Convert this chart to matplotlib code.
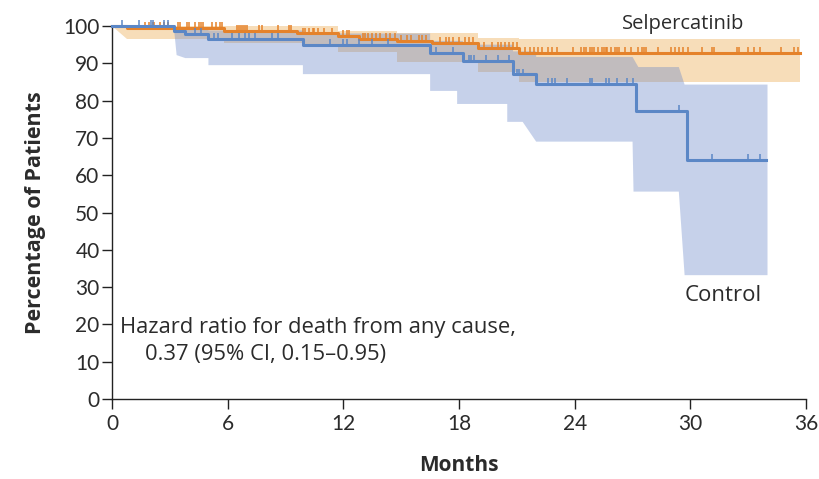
import numpy as np
import matplotlib
matplotlib.use("Agg")
import matplotlib.pyplot as plt

# Kaplan-Meier curves (months, percent surviving)
selp_t = [0, 0.8, 5.8, 9.6, 11.7, 12.8, 14.8, 16.6, 19.0, 21.1, 35.7]
selp_v = [100, 99.4, 98.6, 98.0, 97.4, 96.5, 95.9, 95.4, 94.1, 92.7, 92.7]

ctrl_t = [0, 3.2, 3.8, 5.0, 9.9, 16.5, 18.2, 20.8, 22.0, 27.2, 29.8, 33.9]
ctrl_v = [100, 98.6, 97.9, 96.5, 95.0, 92.7, 90.6, 87.0, 84.4, 77.1, 64.1, 64.1]

# 95% CI band outlines (vertices)
selp_hi_t = [0, 11.7, 11.7, 14.8, 14.8, 19.0, 19.0, 21.1, 21.1, 35.7]
selp_hi_v = [100, 100, 98.6, 98.6, 98.2, 98.2, 96.9, 96.9, 96.5, 96.5]
selp_lo_t = [0, 0.8, 5.8, 5.8, 9.9, 9.9, 11.7, 11.7, 14.8, 14.8, 19.0, 19.0, 21.1, 21.1, 35.7]
selp_lo_v = [100, 96.5, 96.5, 95.4, 95.4, 94.4, 94.4, 93.0, 93.0, 90.4, 90.4, 87.7, 87.7, 85.1, 85.1]

ctrl_hi_t = [0, 3.2, 3.2, 5.0, 5.0, 9.9, 9.9, 16.5, 16.5, 18.2, 18.2, 20.8, 20.8, 22.0, 22.0, 27.0, 27.3, 29.4, 29.7, 34.0]
ctrl_hi_v = [100, 100, 99.3, 99.3, 98.8, 98.8, 98.0, 98.0, 96.0, 96.0, 95.0, 95.0, 93.2, 93.2, 91.7, 91.7, 89.0, 89.0, 84.3, 84.3]
ctrl_lo_t = [0, 3.2, 3.35, 3.8, 5.0, 5.0, 9.9, 9.9, 16.5, 16.5, 17.9, 17.9, 20.5, 20.5, 21.3, 22.0, 27.0, 27.05, 29.4, 29.7, 34.0]
ctrl_lo_v = [100, 100, 92.2, 91.4, 91.4, 89.5, 89.5, 87.1, 87.1, 82.6, 82.6, 79.1, 79.1, 74.3, 74.3, 69.0, 69.0, 55.6, 55.6, 33.2, 33.2]

# censoring marks (months)
selp_cens = [1.7, 1.9, 2.1, 2.2, 2.5, 2.7, 2.9, 3.4, 3.5, 3.9, 4.0, 4.3, 4.5, 4.6, 4.7,
             5.2, 5.4, 5.6, 5.7, 6.5, 6.6, 6.7, 6.8, 6.9, 7.0, 7.6, 7.8, 8.6, 9.2, 9.3,
             9.9, 10.0, 10.2, 10.4, 10.5, 10.7, 11.0, 11.4, 12.0, 12.2, 12.3,
             13.0, 13.1, 13.3, 13.5, 13.7, 13.9, 14.2, 14.4, 14.7, 15.0, 15.3, 15.5,
             15.9, 16.1, 16.3, 17.0, 17.3, 17.5, 17.7, 18.0, 18.3, 18.5, 18.7,
             19.3, 19.7, 20.0, 20.2, 20.4, 20.6, 20.8, 21.0, 21.4, 21.7, 21.9, 22.1,
             22.3, 22.6, 22.8, 23.1, 23.9, 24.3, 24.5, 24.6, 24.8, 24.9, 25.0, 25.2,
             25.4, 25.5, 25.6, 25.7, 25.9, 26.1, 26.2, 26.3, 26.6, 26.9, 27.3, 27.5,
             27.6, 27.7, 28.3, 29.0, 29.2, 29.4, 29.6, 29.9, 30.6, 31.1, 31.2, 32.4,
             32.5, 33.0, 33.3, 33.6, 34.7, 35.4, 35.6]
ctrl_cens = [0.5, 1.4, 2.0, 2.1, 2.7, 2.9, 4.3, 4.6, 5.3, 5.5, 6.2, 6.6, 6.9, 7.1, 7.4,
             8.3, 8.6, 11.3, 12.0, 12.2, 12.8, 13.5, 14.3, 16.8, 17.7, 18.5, 18.6, 18.8,
             19.4, 20.0, 20.6, 21.0, 21.1, 21.3, 22.6, 22.8, 23.0, 23.6, 24.8, 24.9,
             25.6, 25.8, 26.2, 26.7, 27.0, 29.4, 31.1, 33.0, 33.6]

x_ticks = [0, 6, 12, 18, 24, 30, 36]
y_ticks = [0, 10, 20, 30, 40, 50, 60, 70, 80, 90, 100]

orange = "#E5822A"
blue = "#5B87C6"
peach = "#F7DDB9"
text_col = "#2b2b2b"

plt.rcParams['font.family'] = ['Open Sans', 'DejaVu Sans']

fig = plt.figure(figsize=(8.19, 4.79), dpi=100)
ax = fig.add_axes([0.1368, 0.167, 0.8474, 0.7787])


def band(ax, hi_t, hi_v, lo_t, lo_v, **kw):
    xs = list(hi_t) + list(lo_t)[::-1]
    ys = list(hi_v) + list(lo_v)[::-1]
    ax.fill(xs, ys, lw=0, clip_on=False, **kw)


def step_at(t, v, x):
    idx = np.searchsorted(t, x, side='right') - 1
    return np.asarray(v)[idx]


band(ax, selp_hi_t, selp_hi_v, selp_lo_t, selp_lo_v, color=peach, zorder=1)
band(ax, ctrl_hi_t, ctrl_hi_v, ctrl_lo_t, ctrl_lo_v, color=(0.39, 0.51, 0.78), alpha=0.36, zorder=2)

ax.step(selp_t, selp_v, where='post', color=orange, lw=2.2, zorder=3, clip_on=False)
ax.step(ctrl_t, ctrl_v, where='post', color=blue, lw=2.2, zorder=4, clip_on=False)

sy = step_at(selp_t, selp_v, selp_cens)
ax.vlines(selp_cens, sy, sy + 1.6, color=orange, lw=1.1, zorder=3, clip_on=False)
cy = step_at(ctrl_t, ctrl_v, ctrl_cens)
ax.vlines(ctrl_cens, cy, cy + 1.6, color=blue, lw=1.1, zorder=4, clip_on=False)

ax.set_xlim(0, 36)
ax.set_ylim(0, 100)
ax.set_xticks(x_ticks)
ax.set_yticks(y_ticks)
ax.spines['top'].set_visible(False)
ax.spines['right'].set_visible(False)
for s in ['left', 'bottom']:
    ax.spines[s].set_linewidth(1.0)
    ax.spines[s].set_color('#222222')
ax.tick_params(direction='out', length=7, width=1.0, color='#222222',
               labelsize=15, labelcolor=text_col, pad=2)
ax.tick_params(axis='x', pad=4)
for lab in ax.get_xticklabels() + ax.get_yticklabels():
    lab.set_family(['Lato', 'DejaVu Sans'])

ax.set_xlabel("Months", fontsize=15, fontweight='bold', color=text_col, labelpad=15)
ax.set_ylabel("Percentage of Patients", fontsize=15.5, fontweight='bold', color=text_col, labelpad=12)

ax.text(29.6, 100.6, "Selpercatinib", fontsize=14.5, color=text_col, ha='center', va='center')
ax.text(31.7, 27.8, "Control", fontsize=16, color=text_col, ha='center', va='center')
ax.text(0.4, 19.3, "Hazard ratio for death from any cause,", fontsize=15.8, color=text_col,
        ha='left', va='center')
ax.text(1.7, 11.8, "0.37 (95% CI, 0.15\u20130.95)", fontsize=15.8, color=text_col,
        ha='left', va='center')

fig.savefig("out.png", dpi=100)
